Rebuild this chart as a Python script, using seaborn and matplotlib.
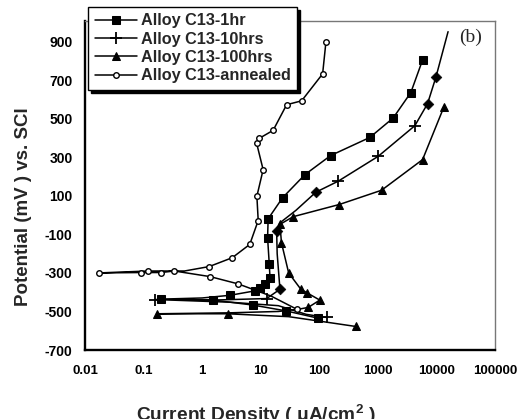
import matplotlib
matplotlib.use("Agg")
import matplotlib.pyplot as plt
import seaborn as sns
import pandas as pd
import numpy as np

sns.set_style("white")
plt.rcParams['font.family'] = ['Liberation Sans', 'DejaVu Sans']
plt.rcParams['mathtext.fontset'] = 'custom'
plt.rcParams['mathtext.rm'] = 'Liberation Sans:bold'
plt.rcParams['mathtext.bf'] = 'Liberation Sans:bold'

# ---- data (current density uA/cm2, potential mV) ----
labels = ["Alloy C13-1hr", "Alloy C13-10hrs", "Alloy C13-100hrs", "Alloy C13-annealed"]

i_1hr = [96, 27, 7.45, 1.55, 0.2, 1.0, 3.0, 8, 9.7, 11.8, 14.4, 14.0, 13.1, 13.4, 23.6, 56.8, 156, 729, 1825, 3655, 5800]
e_1hr = [-535, -497, -467, -441, -436, -430, -416, -393, -376, -358, -324, -255, -117, -19, 90, 210, 309, 403, 504, 636, 805]
mk_1hr = [0, 1, 2, 3, 4, 6, 7, 8, 9, 10, 11, 12, 13, 14, 15, 16, 17, 18, 19, 20]

i_10 = [133, 60, 20, 3, 0.157, 2, 12.6, 21.3, 19.1, 18.7, 21.3, 40, 87.5, 210, 1012, 4280, 7050, 9800, 15800]
e_10 = [-531, -515, -470, -452, -438, -440, -433, -385, -200, -83, -40, 25, 119, 176, 305, 464, 578, 716, 952]
mk_10_plus = [0, 4, 6, 13, 14, 15]
mk_10_diamond = [7, 9, 12, 16, 17]

i_100 = [422, 100, 30, 2.72, 0.167, 3, 20, 45, 64.7, 102, 60.7, 48.5, 30, 22.6, 21.3, 35.9, 219, 1155, 5800, 13400]
e_100 = [-578, -550, -527, -512, -512, -507, -500, -488, -479, -441, -402, -385, -300, -143, -48, -8, 55, 129, 288, 561]
mk_100 = [0, 3, 4, 8, 9, 10, 11, 12, 13, 14, 15, 16, 17, 18, 19]

i_ann = [41, 15, 4.13, 1.36, 0.334, 0.198, 0.09, 0.0173, 0.12, 0.5, 1.32, 3.27, 6.5, 9.06, 8.6, 11, 8.5, 9.4, 16.3, 27.7, 49.9, 114, 130]
e_ann = [-488, -420, -357, -319, -290, -298, -298, -300, -290, -290, -267, -221, -152, -28, 98, 236, 374, 398, 440, 573, 593, 733, 900]
mk_ann = [0, 2, 3, 4, 5, 6, 7, 8, 10, 11, 12, 13, 14, 15, 16, 17, 18, 19, 20, 21, 22]

x_ticks = [0.01, 0.1, 1, 10, 100, 1000, 10000, 100000]
x_ticklabels = ["0.01", "0.1", "1", "10", "100", "1000", "10000", "100000"]
y_ticks = [-700, -500, -300, -100, 100, 300, 500, 700, 900]

# ---- figure ----
W, H = 525, 419
fig = plt.figure(figsize=(W / 100, H / 100), dpi=100)
ax = fig.add_axes([85 / W, 1 - 350 / H, 410 / W, 329.5 / H])

lw = 1.1
common = dict(estimator=None, sort=False, color='black', linewidth=lw, ax=ax)

sns.lineplot(x=i_1hr, y=e_1hr, marker='s', markersize=5.5, markevery=mk_1hr,
             markerfacecolor='black', markeredgecolor='black', label=labels[0], **common)
sns.lineplot(x=i_10, y=e_10, marker='+', markersize=8, markeredgewidth=1.3, markevery=mk_10_plus,
             markeredgecolor='black', label=labels[1], **common)
sns.lineplot(x=i_100, y=e_100, marker='^', markersize=6, markevery=mk_100,
             markerfacecolor='black', markeredgecolor='black', label=labels[2], **common)
sns.lineplot(x=i_ann, y=e_ann, marker='o', markersize=4, markevery=mk_ann, markeredgewidth=1.0,
             markerfacecolor='white', markeredgecolor='black', label=labels[3], **common)
# diamond markers on the 10hrs curve
sns.scatterplot(x=[i_10[k] for k in mk_10_diamond], y=[e_10[k] for k in mk_10_diamond],
                marker='D', s=30, color='black', edgecolor='black', ax=ax, legend=False, zorder=3)

ax.set_xscale('log')
ax.set_xlim(0.01, 100000)
ax.set_ylim(-700, 1010)
ax.set_xticks(x_ticks, x_ticklabels)
ax.set_yticks(y_ticks, [str(v) for v in y_ticks])
ax.xaxis.set_minor_locator(matplotlib.ticker.NullLocator())
ax.tick_params(axis='x', direction='in', length=5, width=1.2, pad=11, labelsize=9.5, colors='black')
ax.tick_params(axis='y', direction='in', length=5, width=1.2, pad=9, labelsize=10, colors='black')
for t in ax.get_xticklabels() + ax.get_yticklabels():
    t.set_fontweight('bold')
ax.set_xlabel('')
ax.set_ylabel('')

for s in ['left', 'bottom']:
    ax.spines[s].set_color('black')
    ax.spines[s].set_linewidth(1.7)
for s in ['top', 'right']:
    ax.spines[s].set_color('#777777')
    ax.spines[s].set_linewidth(1.0)

ax.text(471 / W, 1 - 37 / H, '(b)', transform=fig.transFigure, ha='center', va='center',
        fontsize=14, family='Liberation Serif')

fig.text(24 / W, 1 - 207 / H, 'Potential (mV ) vs. SCl', rotation=90, ha='center', va='center',
         fontsize=13.5, fontweight='bold')
fig.text(256 / W, 1 - 421 / H, r'Current Density ( μA/cm$^{\mathbf{2}}$ )', ha='center', va='baseline',
         fontsize=13.8, fontweight='bold')

leg = ax.legend(loc='upper left', bbox_to_anchor=(88 / W, 1 - 7 / H), bbox_transform=fig.transFigure,
                borderaxespad=0, frameon=True, fancybox=False, shadow={'color': 'black', 'alpha': 1},
                prop={'weight': 'bold', 'size': 11.7}, handlelength=2.6, handletextpad=0.25,
                labelspacing=0.2, borderpad=0.4)
leg.get_frame().set_edgecolor('black')
leg.get_frame().set_linewidth(1.0)
leg.get_frame().set_alpha(1)
leg.set_zorder(10)

fig.savefig('out.png', dpi=100)
